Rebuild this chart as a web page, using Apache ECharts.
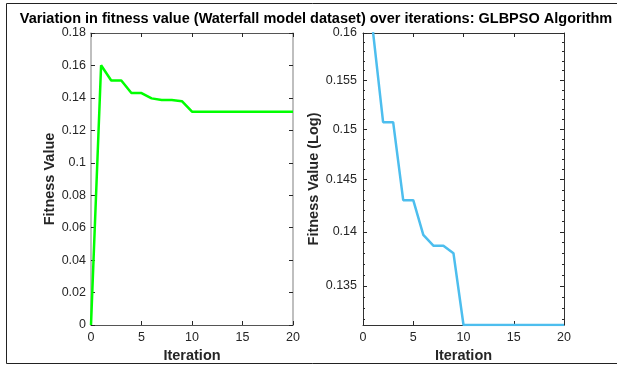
<!DOCTYPE html>
<html>
<head>
<meta charset="utf-8">
<script src="https://cdn.jsdelivr.net/npm/echarts@6/dist/echarts.min.js"></script>
<style>
  html, body { margin: 0; padding: 0; background: #fff; }
  #chart { width: 617px; height: 367px; }
</style>
</head>
<body>
<div id="chart"></div>
<script>
// iteration number and best fitness at that iteration
const iterations = [0, 1, 2, 3, 4, 5, 6, 7, 8, 9, 10, 11, 12, 13, 14, 15, 16, 17, 18, 19, 20];
const fitness = [0, 0.1601, 0.1507, 0.1507, 0.1430, 0.1430, 0.1397, 0.1387, 0.1387, 0.1380, 0.1315,
  0.1315, 0.1315, 0.1315, 0.1315, 0.1315, 0.1315, 0.1315, 0.1315, 0.1315, 0.1315];

const logTicks = [0.135, 0.14, 0.145, 0.15, 0.155, 0.16];
const logMinorTicks = [0.132, 0.133, 0.134, 0.136, 0.137, 0.138, 0.139, 0.141, 0.142, 0.143, 0.144,
  0.146, 0.147, 0.148, 0.149, 0.151, 0.152, 0.153, 0.154, 0.156, 0.157, 0.158, 0.159];
const logMin = 0.1315, logMax = 0.16;

const lin = iterations.map((it, i) => [it, fitness[i]]);
// semilog: the zero at iteration 0 cannot be shown
const logData = iterations.map((it, i) => [it, fitness[i] > 0 ? Math.log10(fitness[i]) : null]);

const FONT = '"Liberation Sans", Arial, sans-serif';
const txt = '#262626';
const lab = { color: txt, fontFamily: FONT, fontSize: 12.5 };
const nameStyle = { color: txt, fontFamily: FONT, fontSize: 14.5, fontWeight: 'bold' };

function xAx(grid, pos, lineColor) {
  const bottom = pos === 'bottom';
  return {
    type: 'value', gridIndex: grid, position: pos, min: 0, max: 20, interval: 5,
    name: bottom ? 'Iteration' : '', nameLocation: 'middle', nameGap: 21, nameTextStyle: nameStyle,
    axisLine: { show: true, onZero: false, lineStyle: { color: lineColor, width: 1 } },
    axisTick: { show: true, inside: true, length: 4, lineStyle: { color: txt } },
    axisLabel: { show: bottom, ...lab, margin: 6 },
    splitLine: { show: false }
  };
}

function yAx(grid, pos, min, max, extra) {
  return Object.assign({
    type: 'value', gridIndex: grid, position: pos, min: min, max: max,
    axisLine: { show: true, onZero: false, lineStyle: { color: '#333', width: 1 } },
    axisTick: { show: true, inside: true, length: 4, lineStyle: { color: txt } },
    axisLabel: { show: false },
    splitLine: { show: false }
  }, extra);
}

const lo = Math.log10(logMin), hi = Math.log10(logMax);
const majorLog = logTicks.map(Math.log10);
const minorLog = logMinorTicks.map(Math.log10);

const chart = echarts.init(document.getElementById('chart'));
chart.setOption({
  animation: false,
  title: {
    text: 'Variation in fitness value (Waterfall model dataset) over iterations: GLBPSO Algorithm',
    left: 311, top: 6, textAlign: 'center',
    textStyle: { color: '#000', fontFamily: FONT, fontSize: 14.5, fontWeight: 'bold' }
  },
  graphic: [{
    type: 'rect', shape: { x: 6.5, y: 3.5, width: 640, height: 360 },
    style: { fill: 'none', stroke: '#222', lineWidth: 1 }, z: -1
  }],
  grid: [
    { left: 91, right: 324, top: 33, bottom: 42, containLabel: false, outerBoundsMode: 'none' },
    { left: 363, right: 53, top: 33, bottom: 42, containLabel: false, outerBoundsMode: 'none' }
  ],
  xAxis: [
    xAx(0, 'bottom', '#555'), xAx(0, 'top', '#555'),
    xAx(1, 'bottom', '#333'), xAx(1, 'top', '#333')
  ],
  yAxis: [
    yAx(0, 'left', 0, 0.18, {
      interval: 0.02,
      name: 'Fitness Value', nameLocation: 'middle', nameGap: 29, nameTextStyle: nameStyle,
      axisLine: { show: true, onZero: false, lineStyle: { color: '#aaa', width: 1.5 } },
      axisLabel: { ...lab, margin: 5 }
    }),
    yAx(0, 'right', 0, 0.18, {
      interval: 0.02,
      axisLine: { show: true, onZero: false, lineStyle: { color: '#aaa', width: 1.5 } }
    }),
    yAx(1, 'left', lo, hi, {
      name: 'Fitness Value (Log)', nameLocation: 'middle', nameGap: 42, nameTextStyle: nameStyle,
      axisTick: { show: true, inside: true, length: 4, lineStyle: { color: txt }, customValues: majorLog },
      axisLabel: { ...lab, margin: 6, customValues: majorLog,
        formatter: v => String(+Math.pow(10, v).toFixed(3)) }
    }),
    yAx(1, 'right', lo, hi, {
      axisTick: { show: true, inside: true, length: 4, lineStyle: { color: txt }, customValues: majorLog },
      axisLabel: { show: false, customValues: majorLog }
    }),
    yAx(1, 'left', lo, hi, {
      axisLine: { show: false, onZero: false },
      axisTick: { show: true, inside: true, length: 2, lineStyle: { color: txt }, customValues: minorLog },
      axisLabel: { show: false, customValues: minorLog }
    }),
    yAx(1, 'right', lo, hi, {
      axisLine: { show: false, onZero: false },
      axisTick: { show: true, inside: true, length: 2, lineStyle: { color: txt }, customValues: minorLog },
      axisLabel: { show: false, customValues: minorLog }
    })
  ],
  series: [
    {
      type: 'line', xAxisIndex: 0, yAxisIndex: 0, data: lin, showSymbol: false,
      lineStyle: { color: '#00ff00', width: 2.5 }, z: 3
    },
    {
      type: 'line', xAxisIndex: 2, yAxisIndex: 2, data: logData, showSymbol: false, clip: true,
      lineStyle: { color: '#4dbeee', width: 2.5 }, z: 3
    }
  ]
});
</script>
</body>
</html>
